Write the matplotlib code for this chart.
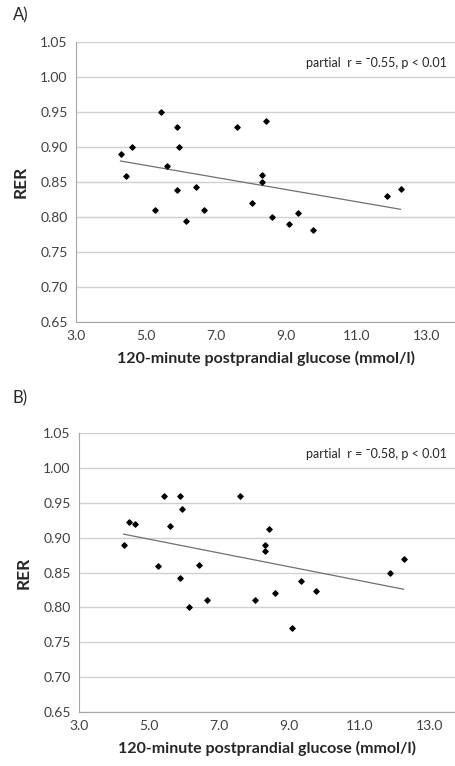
import matplotlib.pyplot as plt

# 120-minute postprandial glucose (mmol/l), same subjects in both panels
glucose = [4.27, 4.43, 4.60, 5.25, 5.43, 5.60, 5.87, 5.87, 5.93, 6.15, 6.43, 6.65,
           7.60, 8.03, 8.32, 8.32, 8.42, 8.59, 9.09, 9.32, 9.75, 11.87, 12.26]

# RER values, panel A
rer_a = [0.890, 0.858, 0.900, 0.810, 0.950, 0.873, 0.929, 0.839, 0.900, 0.795, 0.843, 0.810,
         0.929, 0.820, 0.860, 0.850, 0.937, 0.800, 0.790, 0.806, 0.781, 0.830, 0.840]

# RER values, panel B
rer_b = [0.890, 0.922, 0.920, 0.860, 0.960, 0.916, 0.960, 0.842, 0.941, 0.800, 0.861, 0.810,
         0.960, 0.810, 0.890, 0.881, 0.913, 0.821, 0.770, 0.838, 0.824, 0.850, 0.870]

# trend line end points
trend_x = [4.27, 12.26]
trend_a = [0.880, 0.811]
trend_b = [0.905, 0.826]

y_ticks = [0.65, 0.70, 0.75, 0.80, 0.85, 0.90, 0.95, 1.00, 1.05]
x_ticks = [3.0, 5.0, 7.0, 9.0, 11.0, 13.0]

panels = [
    ('A)', rer_a, trend_a, 'partial  r = \u02c90.55, p < 0.01'),
    ('B)', rer_b, trend_b, 'partial  r = \u02c90.58, p < 0.01'),
]

plt.rcParams['font.family'] = ['Lato', 'DejaVu Sans']

W, H = 456, 766
fig = plt.figure(figsize=(W / 100, H / 100), dpi=100)

# axes boxes in pixels: left, top, bottom
boxes = [(76, 42, 322), (79, 433, 712)]
label_pos = [(13, 15), (13, 398)]

for (name, rer, trend, note), (left, top, bottom), (lx, ly) in zip(panels, boxes, label_pos):
    ax = fig.add_axes([left / W, 1 - bottom / H, (W - left) / W, (bottom - top) / H])
    ax.set_xlim(3.0, 3.0 + (W - left) / 35.05)
    ax.set_ylim(0.65, 1.05)
    ax.set_yticks(y_ticks)
    ax.set_xticks(x_ticks)
    ax.set_yticklabels(['%.2f' % v for v in y_ticks])
    ax.set_xticklabels(['%.1f' % v for v in x_ticks])
    ax.tick_params(length=0, labelsize=10, labelcolor='#404040', pad=6)
    ax.grid(axis='y', color='#d0d0d0', linewidth=1)
    ax.set_axisbelow(True)
    for side in ['top', 'right']:
        ax.spines[side].set_visible(False)
    for side in ['left', 'bottom']:
        ax.spines[side].set_color('#a6a6a6')

    ax.plot(trend_x, trend, color='#707070', linewidth=0.9)
    ax.scatter(glucose, rer, marker='D', s=7, color='black', zorder=3)

    ax.set_xlabel('120-minute postprandial glucose (mmol/l)', fontsize=11.5,
                  fontweight='bold', color='#262626', labelpad=6)
    ax.set_ylabel('RER', fontsize=12.5, fontweight='bold', color='#262626', labelpad=8)
    ax.text(0.975, 0.925, note, transform=ax.transAxes, ha='right', va='center',
            fontsize=9, color='#262626')

    fig.text(lx / W, 1 - ly / H, name, fontsize=12, color='#262626', va='center')

fig.savefig('out.png', dpi=100, facecolor='white')
